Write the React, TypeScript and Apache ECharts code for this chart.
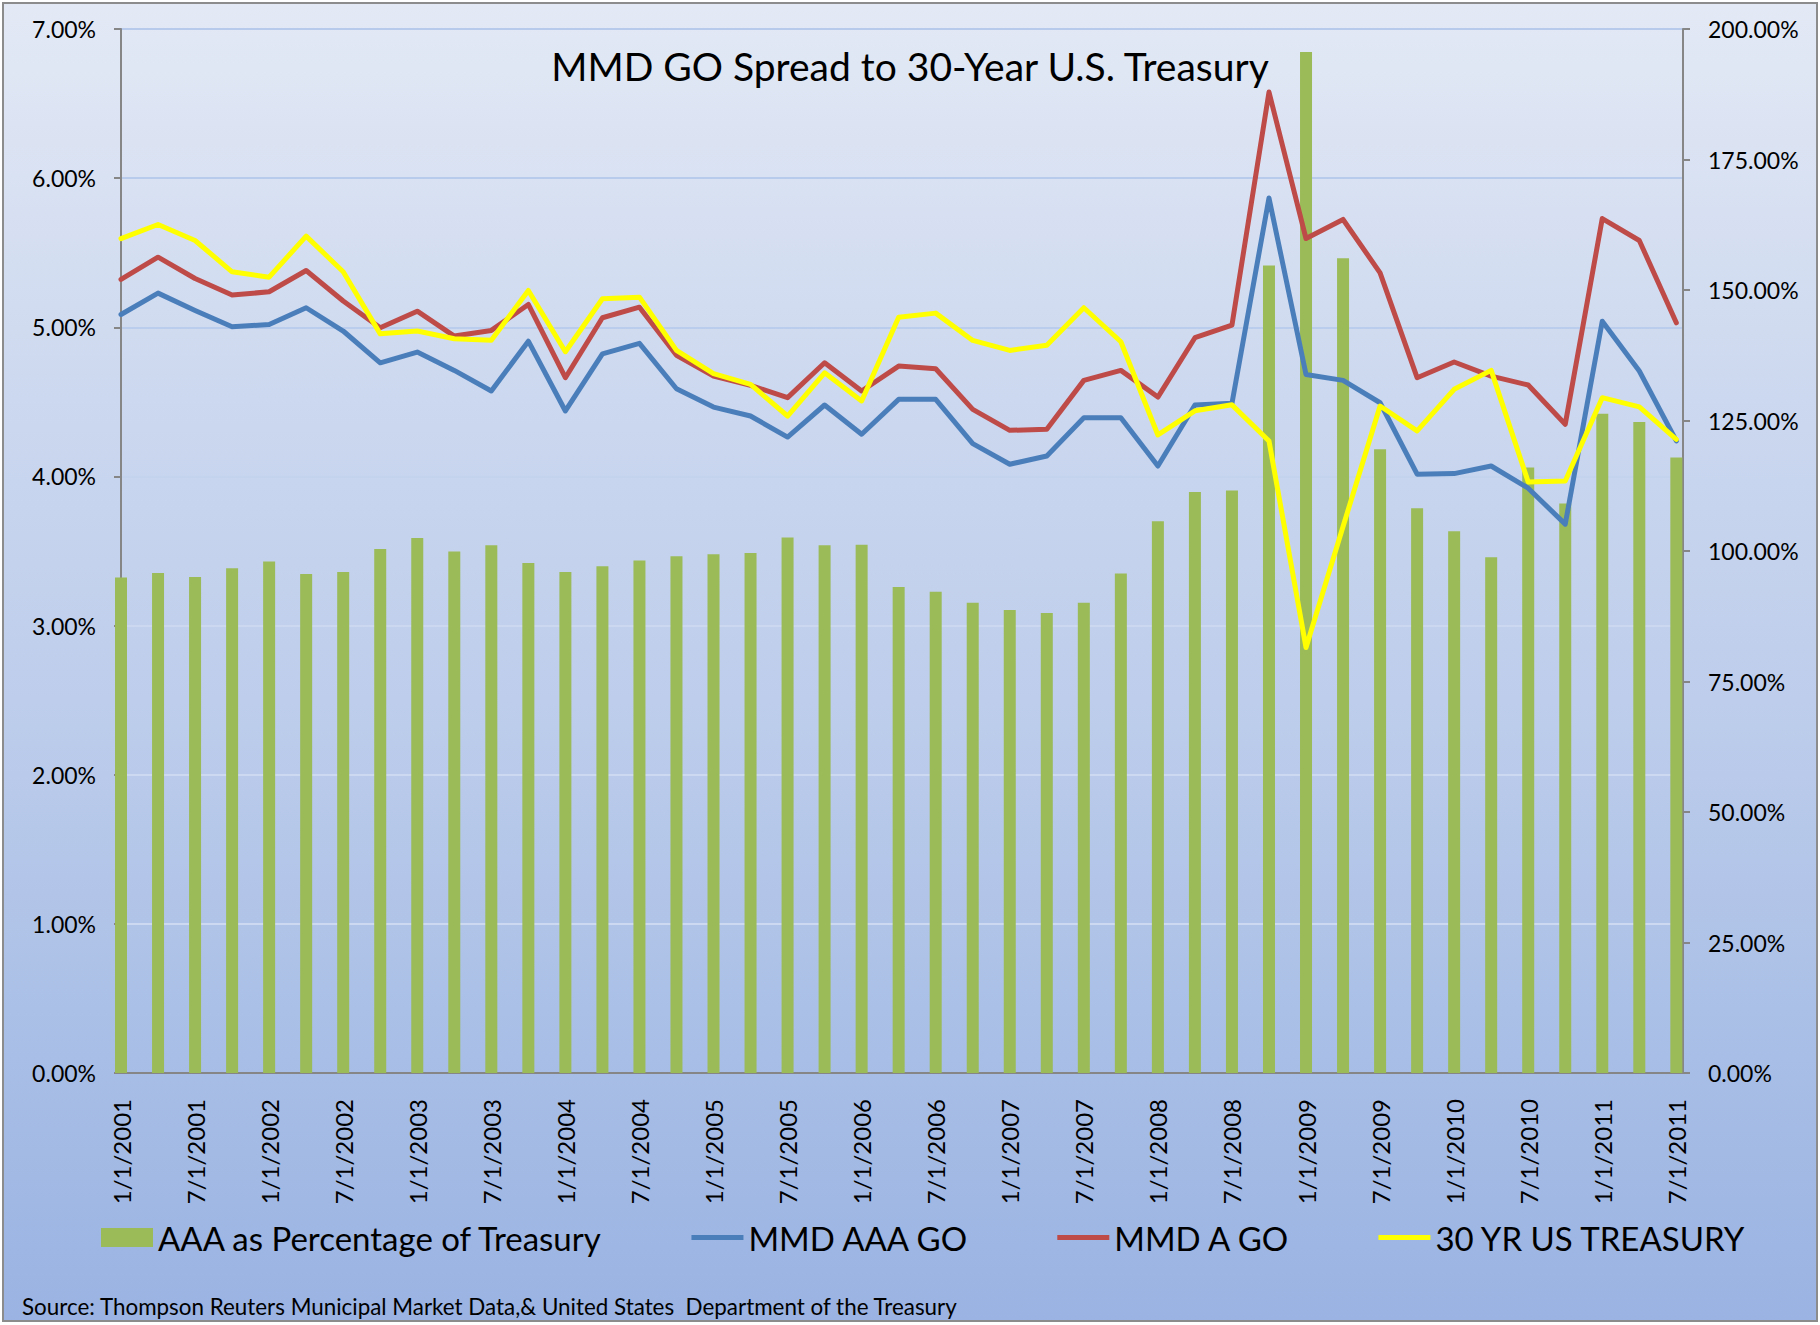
import React, { useEffect, useRef } from 'react';
import * as echarts from 'echarts';

const dates = [
  '1/1/2001', '4/1/2001', '7/1/2001', '10/1/2001',
  '1/1/2002', '4/1/2002', '7/1/2002', '10/1/2002',
  '1/1/2003', '4/1/2003', '7/1/2003', '10/1/2003',
  '1/1/2004', '4/1/2004', '7/1/2004', '10/1/2004',
  '1/1/2005', '4/1/2005', '7/1/2005', '10/1/2005',
  '1/1/2006', '4/1/2006', '7/1/2006', '10/1/2006',
  '1/1/2007', '4/1/2007', '7/1/2007', '10/1/2007',
  '1/1/2008', '4/1/2008', '7/1/2008', '10/1/2008',
  '1/1/2009', '4/1/2009', '7/1/2009', '10/1/2009',
  '1/1/2010', '4/1/2010', '7/1/2010', '10/1/2010',
  '1/1/2011', '4/1/2011', '7/1/2011',
];

// AAA as Percentage of Treasury (right axis, %)
const aaaPctOfTreasury = [
  94.9, 95.8, 95.0, 96.7, 98.0, 95.6, 96.0, 100.4, 102.5, 99.9, 101.1,
  97.7, 96.0, 97.1, 98.2, 99.0, 99.4, 99.6, 102.6, 101.1, 101.2, 93.1,
  92.2, 90.1, 88.7, 88.1, 90.1, 95.7, 105.7, 111.3, 111.6, 154.7, 195.6,
  156.1, 119.5, 108.2, 103.8, 98.8, 116.0, 109.1, 126.3, 124.7, 117.9,
];

// MMD AAA GO (left axis, %)
const mmdAAAGO = [
  5.086, 5.229, 5.113, 5.003, 5.019, 5.131, 4.975, 4.762, 4.834, 4.711, 4.573,
  4.907, 4.439, 4.822, 4.892, 4.588, 4.465, 4.405, 4.264, 4.479, 4.283, 4.517,
  4.517, 4.220, 4.082, 4.137, 4.394, 4.394, 4.070, 4.479, 4.490, 5.867, 4.684,
  4.644, 4.494, 4.015, 4.019, 4.070, 3.921, 3.680, 5.041, 4.707, 4.238,
];

// MMD A GO (left axis, %)
const mmdAGO = [
  5.321, 5.470, 5.327, 5.216, 5.238, 5.381, 5.176, 4.997, 5.108, 4.941, 4.979,
  5.153, 4.662, 5.064, 5.135, 4.812, 4.673, 4.611, 4.528, 4.762, 4.573, 4.740,
  4.722, 4.450, 4.309, 4.316, 4.644, 4.711, 4.532, 4.930, 5.015, 6.577, 5.595,
  5.723, 5.365, 4.662, 4.767, 4.673, 4.613, 4.350, 5.729, 5.582, 5.030,
];

// 30 YR US TREASURY (left axis, %)
const treasury30 = [
  5.595, 5.689, 5.582, 5.372, 5.336, 5.611, 5.372, 4.956, 4.975, 4.923, 4.913,
  5.247, 4.836, 5.191, 5.202, 4.845, 4.689, 4.617, 4.405, 4.695, 4.506, 5.068,
  5.095, 4.912, 4.845, 4.879, 5.131, 4.903, 4.278, 4.440, 4.480, 4.238, 2.853,
  3.664, 4.472, 4.305, 4.584, 4.711, 3.963, 3.970, 4.528, 4.466, 4.249,
];

const seriesNames = [
  'AAA as Percentage of Treasury',
  'MMD AAA GO',
  'MMD A GO',
  '30 YR US TREASURY',
];

const titleText = 'MMD GO Spread to 30-Year U.S. Treasury';
const sourceText =
  'Source: Thompson Reuters Municipal Market Data,& United States  Department of the Treasury';

const FONT = 'Lato';
// legend line icon: a 5px-thick bar vertically centred in the 19px-high icon box
const LINE_ICON = 'path://M0,0 M52,19 M0,7 L52,7 L52,12 L0,12 Z';

export default function App() {
  const ref = useRef<HTMLDivElement>(null);

  useEffect(() => {
    if (!ref.current) return;
    const chart = echarts.init(ref.current, null, { renderer: 'svg' });
    const pts = (arr: number[]) => arr.map((v, i) => [i, v]);

    chart.setOption({
      animation: false,
      backgroundColor: 'transparent',
      title: [
        {
          text: titleText,
          left: 'center',
          top: 41,
          textStyle: { fontFamily: FONT, fontSize: 39, fontWeight: 'normal', color: '#000' },
        },
        {
          text: sourceText,
          left: 17,
          top: 1290,
          textStyle: { fontFamily: FONT, fontSize: 22.4, fontWeight: 'normal', color: '#000' },
        },
      ],
      legend: {
        left: 96,
        top: 1216,
        itemWidth: 52,
        itemHeight: 19,
        itemGap: 88,
        textStyle: { fontFamily: FONT, fontSize: 33, color: '#000' },
        data: [
          { name: seriesNames[0], icon: 'rect' },
          { name: seriesNames[1], icon: LINE_ICON },
          { name: seriesNames[2], icon: LINE_ICON },
          { name: seriesNames[3], icon: LINE_ICON },
        ],
      },
      grid: { left: 121, top: 29, width: 1562, height: 1044, containLabel: false },
      xAxis: {
        type: 'value',
        min: 0,
        max: 42.18,
        interval: 2,
        axisLine: { show: true, onZero: false, lineStyle: { color: '#868686', width: 2 } },
        axisTick: { show: false },
        splitLine: { show: false },
        axisLabel: {
          rotate: 90,
          margin: 26,
          fontFamily: FONT,
          fontSize: 24,
          color: '#000',
          showMaxLabel: true,
          formatter: (v: number) =>
            Number.isInteger(v) && v % 2 === 0 && dates[v] ? dates[v] : '',
        },
      },
      yAxis: [
        {
          type: 'value',
          position: 'left',
          min: 0,
          max: 7,
          interval: 1,
          axisLine: { show: true, lineStyle: { color: '#868686', width: 2 } },
          axisTick: { show: true, length: 7, lineStyle: { color: '#868686', width: 2 } },
          axisLabel: {
            margin: 25,
            fontFamily: FONT,
            fontSize: 23,
            color: '#000',
            formatter: (v: number) => v.toFixed(2) + '%',
          },
          splitLine: {
            show: true,
            lineStyle: {
              width: 1.5,
              color: [
                'rgba(0,0,0,0)',
                '#D6E0F3',
                '#D3DEF2',
                '#CFDBF1',
                '#C2D2EE',
                '#B4C9EC',
                '#ACC3EA',
                '#A8C0E9',
              ],
            },
          },
        },
        {
          type: 'value',
          position: 'right',
          min: 0,
          max: 200,
          interval: 25,
          axisLine: { show: true, lineStyle: { color: '#868686', width: 2 } },
          axisTick: { show: true, length: 7, lineStyle: { color: '#868686', width: 2 } },
          axisLabel: {
            margin: 25,
            fontFamily: FONT,
            fontSize: 23,
            color: '#000',
            formatter: (v: number) => v.toFixed(2) + '%',
          },
          splitLine: { show: false },
        },
      ],
      series: [
        {
          name: seriesNames[0],
          type: 'bar',
          yAxisIndex: 1,
          data: pts(aaaPctOfTreasury),
          barWidth: 12,
          clip: true,
          itemStyle: { color: '#9BBB59' },
          z: 1,
        },
        {
          name: seriesNames[1],
          type: 'line',
          yAxisIndex: 0,
          data: pts(mmdAAAGO),
          symbol: 'none',
          showSymbol: false,
          lineStyle: { color: '#4A7EBB', width: 5, join: 'round', cap: 'round' },
          itemStyle: { color: '#4A7EBB' },
          z: 3,
        },
        {
          name: seriesNames[2],
          type: 'line',
          yAxisIndex: 0,
          data: pts(mmdAGO),
          symbol: 'none',
          showSymbol: false,
          lineStyle: { color: '#BE4B48', width: 5, join: 'round', cap: 'round' },
          itemStyle: { color: '#BE4B48' },
          z: 4,
        },
        {
          name: seriesNames[3],
          type: 'line',
          yAxisIndex: 0,
          data: pts(treasury30),
          symbol: 'none',
          showSymbol: false,
          lineStyle: { color: '#FFFF00', width: 5, join: 'round', cap: 'round' },
          itemStyle: { color: '#FFFF00' },
          z: 5,
        },
      ],
    });

    return () => chart.dispose();
  }, []);

  return (
    <div
      style={{
        position: 'fixed',
        left: 0,
        top: 0,
        width: 1820,
        height: 1325,
        background: '#ffffff',
        overflow: 'hidden',
      }}
    >
      <div
        style={{
          position: 'absolute',
          left: 2,
          top: 2,
          width: 1816,
          height: 1320,
          boxSizing: 'border-box',
          border: '2px solid #8C8C8C',
          background:
            'linear-gradient(to bottom, #E3E9F5 0%, #CCD8EF 30%, #BCCCEB 55%, #A8BEE6 80%, #9AB3E2 100%)',
        }}
      />
      <div
        ref={ref}
        style={{ position: 'absolute', left: 0, top: 0, width: 1820, height: 1325 }}
      />
    </div>
  );
}
